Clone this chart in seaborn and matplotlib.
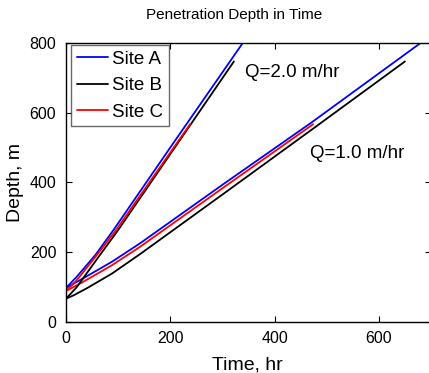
import matplotlib
matplotlib.use("Agg")
import matplotlib.pyplot as plt
import seaborn as sns
import pandas as pd

# Q = 2.0 m/hr
time_A2 = [0, 20, 56, 91, 200, 339]
depth_A2 = [97, 128, 191, 263, 500, 800]
time_B2 = [0, 20, 61, 100, 322]
depth_B2 = [66, 98, 183, 263, 747]
time_C2 = [0, 20, 59, 96, 238]
depth_C2 = [88, 118, 191, 263, 567]

# Q = 1.0 m/hr
time_A1 = [0, 30, 88, 142, 300, 471, 680]
depth_A1 = [97, 122, 172, 225, 393, 572, 800]
time_B1 = [0, 15, 40, 88, 142, 300, 471, 650]
depth_B1 = [66, 76, 96, 138, 194, 365, 551, 747]
time_C1 = [0, 30, 88, 142, 300, 474]
depth_C1 = [88, 112, 162, 215, 383, 567]

sites = ["Site A", "Site B", "Site C"]
colors = {"Site A": "#0000ff", "Site B": "#000000", "Site C": "#ff0000"}

x_ticks = [0, 200, 400, 600]
y_ticks = [0, 200, 400, 600, 800]

sns.set_style("ticks")
plt.rcParams["font.family"] = ["Liberation Sans", "DejaVu Sans"]
plt.rcParams["text.color"] = "black"
plt.rcParams["axes.labelcolor"] = "black"

fig = plt.figure(figsize=(4.29, 3.73), dpi=100)
ax = fig.add_axes([66 / 429, (373 - 321.7) / 373, (431 - 66) / 429, (321.7 - 43) / 373])

lines = [
    ("Site A", time_A1, depth_A1, True),
    ("Site B", time_B1, depth_B1, True),
    ("Site C", time_C1, depth_C1, True),
    ("Site A", time_A2, depth_A2, False),
    ("Site B", time_B2, depth_B2, False),
    ("Site C", time_C2, depth_C2, False),
]
for site, t, d, lab in lines:
    df = pd.DataFrame({"t": t, "d": d})
    sns.lineplot(data=df, x="t", y="d", color=colors[site], lw=1.3,
                 label=site if lab else None, sort=False, estimator=None, ax=ax)

ax.set_xlim(0, 700)
ax.set_ylim(0, 800)
ax.set_xticks(x_ticks)
ax.set_yticks(y_ticks)
ax.tick_params(direction="in", length=4, width=0.8, labelsize=11.5, top=True, right=True,
               colors="black", labelcolor="black", pad=7)
for s in ax.spines.values():
    s.set_visible(True)
    s.set_color("black")
    s.set_linewidth(1.0)
ax.set_xlabel("")
ax.set_ylabel("")

ax.text(343, 714, "Q=2.0 m/hr", fontsize=13.5, va="center", ha="left", color="black")
ax.text(468, 484, "Q=1.0 m/hr", fontsize=13.5, va="center", ha="left", color="black")

fig.text(234 / 429, 1 - 15 / 373, "Penetration Depth in Time", fontsize=11, ha="center", va="center", color="black")
fig.text(247 / 429, 1 - 365 / 373, "Time, hr", fontsize=14, ha="center", va="center", color="black")
fig.text(15 / 429, 1 - 183 / 373, "Depth, m", fontsize=14, ha="center", va="center", rotation=90, color="black")

leg = ax.legend(loc="upper left", bbox_to_anchor=(5 / 365, 1 - 2 / 278.7), frameon=True,
                fontsize=13.5, handlelength=1.65, handletextpad=0.25, labelspacing=0.5,
                borderpad=0.3, borderaxespad=0, fancybox=False)
leg.get_frame().set_edgecolor("#444444")
leg.get_frame().set_linewidth(1.0)
for txt in leg.get_texts():
    txt.set_color("black")

fig.savefig("out.png", dpi=100)
